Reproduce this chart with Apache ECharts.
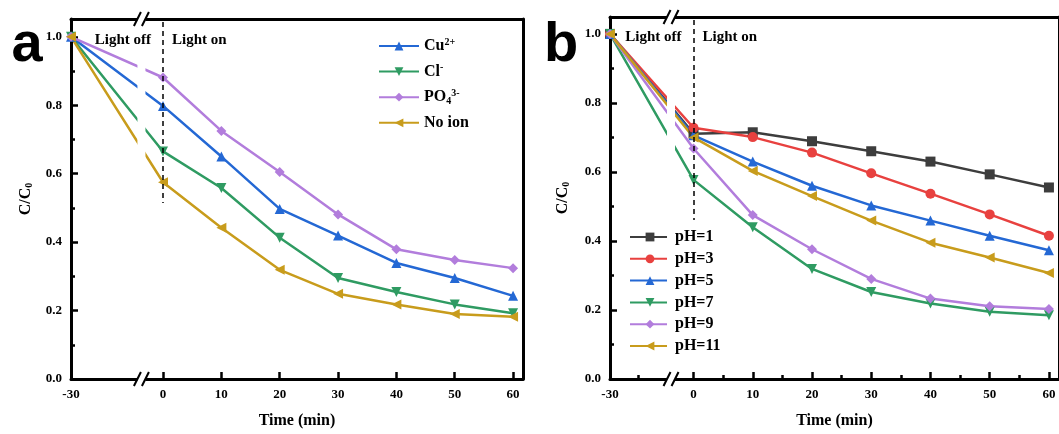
<!DOCTYPE html>
<html><head><meta charset="utf-8">
<script src="https://cdn.jsdelivr.net/npm/echarts@6/dist/echarts.min.js"></script>
<style>html,body{margin:0;padding:0;background:#fff}#c{width:1059px;height:434px}</style>
</head><body><div id="c"></div>
<script>
// ---- data ----
const times = [-30, 0, 10, 20, 30, 40, 50, 60];
const xTickValues = [0, 10, 20, 30, 40, 50, 60];
const yTickValues = [0, 0.2, 0.4, 0.6, 0.8, 1.0];
const yMinorValues = [0.1, 0.3, 0.5, 0.7, 0.9];
const ionNames = ['Cu2+', 'Cl-', 'PO43-', 'No ion'];
const cu    = [1.0, 0.798, 0.650, 0.497, 0.419, 0.339, 0.295, 0.243];
const cl    = [1.0, 0.665, 0.558, 0.413, 0.295, 0.254, 0.218, 0.192];
const po4   = [1.0, 0.881, 0.725, 0.605, 0.481, 0.379, 0.348, 0.324];
const noIon = [1.0, 0.575, 0.442, 0.319, 0.249, 0.218, 0.190, 0.182];
const phNames = ['pH=1', 'pH=3', 'pH=5', 'pH=7', 'pH=9', 'pH=11'];
const ph1  = [1.0, 0.711, 0.715, 0.689, 0.660, 0.630, 0.593, 0.555];
const ph3  = [1.0, 0.728, 0.701, 0.656, 0.596, 0.537, 0.477, 0.415];
const ph5  = [1.0, 0.706, 0.630, 0.560, 0.503, 0.459, 0.415, 0.373];
const ph7  = [1.0, 0.577, 0.440, 0.319, 0.252, 0.219, 0.195, 0.185];
const ph9  = [1.0, 0.668, 0.475, 0.376, 0.290, 0.233, 0.211, 0.203];
const ph11 = [1.0, 0.700, 0.603, 0.530, 0.459, 0.395, 0.352, 0.307];

// ---- layout ----
const FONT = "'Liberation Serif','Times New Roman',serif";
const C = {grey:'#3d3d3d', red:'#e8413f', blue:'#2468d4', green:'#2f9b62', purple:'#b27ddc', gold:'#c89c1c'};
const panels = [
  {off: 15.77, xmax: 61.7, ymax: 1.052, left: 71, top: 19, width: 452, height: 364, breakAt: -3.7, minorX: [], dash: [1.043, 0.514]},
  {off: 14.1,  xmax: 61.7, ymax: 1.049, left: 610, top: 17, width: 453, height: 366, breakAt: -3.8, minorX: [-9.25, 5, 15, 25, 35, 45, 55], dash: [1.04, 0.461]}
];
function tx(t, p) { return t >= 0 ? t : t * p.off / 30; }

const grids = [], xAxes = [], yAxes = [], series = [];
panels.forEach((p, gi) => {
  grids.push({left: p.left, top: p.top, width: p.width, height: p.height, containLabel: false});
  const xMain = xAxes.length;
  xAxes.push({
    type: 'value', gridIndex: gi, position: 'bottom', min: -p.off, max: p.xmax,
    axisLine: {show: true, onZero: false, lineStyle: {color: '#000', width: 3}},
    axisTick: {show: true, inside: true, length: 7, customValues: xTickValues, lineStyle: {color: '#000', width: 2.5}},
    axisLabel: {show: true, customValues: [-p.off].concat(xTickValues), margin: 9,
      formatter: v => v < 0 ? '-30' : String(Math.round(v)),
      color: '#000', fontFamily: FONT, fontWeight: 'bold', fontSize: 13},
    splitLine: {show: false},
    name: 'Time (min)', nameLocation: 'middle', nameGap: 34,
    nameTextStyle: {color: '#000', fontFamily: FONT, fontWeight: 'bold', fontSize: 16}
  });
  if (p.minorX.length) xAxes.push({
    type: 'value', gridIndex: gi, position: 'bottom', min: -p.off, max: p.xmax,
    axisLine: {show: false, onZero: false},
    axisTick: {show: true, inside: true, length: 4, customValues: p.minorX, lineStyle: {color: '#000', width: 2.5}},
    axisLabel: {show: false}, splitLine: {show: false}
  });
  xAxes.push({
    type: 'value', gridIndex: gi, position: 'top', min: -p.off, max: p.xmax,
    axisLine: {show: true, onZero: false, lineStyle: {color: '#000', width: 3}},
    axisTick: {show: false}, axisLabel: {show: false}, splitLine: {show: false}
  });
  const yMain = yAxes.length;
  yAxes.push({
    type: 'value', gridIndex: gi, position: 'left', min: 0, max: p.ymax,
    axisLine: {show: true, onZero: false, lineStyle: {color: '#000', width: 3}},
    axisTick: {show: true, inside: true, length: 7, customValues: yTickValues, lineStyle: {color: '#000', width: 2.5}},
    axisLabel: {show: true, customValues: yTickValues, margin: 9, formatter: v => v.toFixed(1),
      color: '#000', fontFamily: FONT, fontWeight: 'bold', fontSize: 13},
    splitLine: {show: false},
    name: '{n|C/C}{s|0}', nameLocation: 'middle', nameGap: gi === 0 ? 37 : 39, nameRotate: 90,
    nameTextStyle: {color: '#000', rich: {
      n: {fontFamily: FONT, fontWeight: 'bold', fontSize: 16, color: '#000'},
      s: {fontFamily: FONT, fontWeight: 'bold', fontSize: 10, color: '#000', verticalAlign: 'bottom'}
    }}
  });
  yAxes.push({
    type: 'value', gridIndex: gi, position: 'left', min: 0, max: p.ymax,
    axisLine: {show: false, onZero: false},
    axisTick: {show: true, inside: true, length: 4, customValues: yMinorValues, lineStyle: {color: '#000', width: 2.5}},
    axisLabel: {show: false}, splitLine: {show: false}
  });
  yAxes.push({
    type: 'value', gridIndex: gi, position: 'right', min: 0, max: p.ymax,
    axisLine: {show: true, onZero: false, lineStyle: {color: '#000', width: 3}},
    axisTick: {show: false}, axisLabel: {show: false}, splitLine: {show: false}
  });
  p.xi = xMain; p.yi = yMain;
});

function mkSeries(name, vals, p, color, symbol, rotate, withDash) {
  const s = {
    type: 'line', name: name, xAxisIndex: p.xi, yAxisIndex: p.yi,
    data: times.map((t, i) => [tx(t, p), vals[i]]),
    symbol: symbol, symbolSize: 10, symbolRotate: rotate,
    lineStyle: {color: color, width: 2.5}, itemStyle: {color: color},
    showAllSymbol: true, animation: false
  };
  if (withDash) s.markLine = {
    silent: true, symbol: 'none', animation: false, label: {show: false},
    lineStyle: {color: '#000', type: [5, 4], width: 1.5},
    data: [[{coord: [0, p.dash[0]]}, {coord: [0, p.dash[1]]}]]
  };
  return s;
}
const pa = panels[0], pb = panels[1];
series.push(mkSeries(ionNames[0], cu, pa, C.blue, 'triangle', 0, true));
series.push(mkSeries(ionNames[1], cl, pa, C.green, 'triangle', 180, false));
series.push(mkSeries(ionNames[2], po4, pa, C.purple, 'diamond', 0, false));
series.push(mkSeries(ionNames[3], noIon, pa, C.gold, 'triangle', 90, false));
series.push(mkSeries(phNames[0], ph1, pb, C.grey, 'rect', 0, true));
series.push(mkSeries(phNames[1], ph3, pb, C.red, 'circle', 0, false));
series.push(mkSeries(phNames[2], ph5, pb, C.blue, 'triangle', 0, false));
series.push(mkSeries(phNames[3], ph7, pb, C.green, 'triangle', 180, false));
series.push(mkSeries(phNames[4], ph9, pb, C.purple, 'diamond', 0, false));
series.push(mkSeries(phNames[5], ph11, pb, C.gold, 'triangle', 90, false));

const legendRich = {
  m: {fontFamily: FONT, fontWeight: 'bold', fontSize: 16, color: '#000', lineHeight: 18},
  sup: {fontFamily: FONT, fontWeight: 'bold', fontSize: 10, color: '#000', verticalAlign: 'top', lineHeight: 10},
  sub: {fontFamily: FONT, fontWeight: 'bold', fontSize: 10, color: '#000', verticalAlign: 'bottom', lineHeight: 10}
};
const ionLabel = {'Cu2+': '{m|Cu}{sup|2+}', 'Cl-': '{m|Cl}{sup|-}', 'PO43-': '{m|PO}{sub|4}{sup|3-}', 'No ion': '{m|No ion}'};

const chart = echarts.init(document.getElementById('c'), null, {renderer: 'canvas'});
chart.setOption({
  backgroundColor: '#fff', animation: false,
  grid: grids, xAxis: xAxes, yAxis: yAxes, series: series,
  legend: [
    {data: ionNames, orient: 'vertical', left: 378, top: 37, padding: 0, itemWidth: 40, itemHeight: 11, itemGap: 8.6,
     formatter: n => ionLabel[n], textStyle: {rich: legendRich}, selectedMode: false},
    {data: phNames, orient: 'vertical', left: 629, top: 229, padding: 0, itemWidth: 40, itemHeight: 11, itemGap: 5.8,
     formatter: n => '{m|' + n + '}', textStyle: {rich: legendRich}, selectedMode: false}
  ]
});

// break marks, light off/on texts and panel letters
const gfx = [];
panels.forEach((p, gi) => {
  const pB = chart.convertToPixel({xAxisIndex: p.xi, yAxisIndex: p.yi}, [p.breakAt, 0]);
  const pT = chart.convertToPixel({xAxisIndex: p.xi, yAxisIndex: p.yi}, [p.breakAt, p.ymax]);
  const x = pB[0], yb = pB[1], yt = pT[1], hw = 4;
  gfx.push({type: 'rect', silent: true, z: 100, shape: {x: x - hw, y: yt - 3, width: 2 * hw, height: yb - yt + 6}, style: {fill: '#fff'}});
  [yt, yb].forEach(y => [-hw, hw].forEach(dx => gfx.push({type: 'line', silent: true, z: 101,
    shape: {x1: x + dx - 3.5, y1: y + 7, x2: x + dx + 3.5, y2: y - 7}, style: {stroke: '#000', lineWidth: 2}})));
  const p0 = chart.convertToPixel({xAxisIndex: p.xi, yAxisIndex: p.yi}, [0, 1.0]);
  gfx.push({type: 'text', z: 102, x: p0[0] - 12, y: p0[1] + 3, style: {text: 'Light off', fill: '#000', font: "bold 15px " + FONT, align: 'right', verticalAlign: 'middle'}});
  gfx.push({type: 'text', z: 102, x: p0[0] + 9, y: p0[1] + 3, style: {text: 'Light on', fill: '#000', font: "bold 15px " + FONT, align: 'left', verticalAlign: 'middle'}});
});
gfx.push({type: 'text', z: 102, x: 27, y: 46, style: {text: 'a', fill: '#000', font: "bold 56px 'Liberation Sans',Arial,sans-serif", align: 'center', verticalAlign: 'middle'}});
gfx.push({type: 'text', z: 102, x: 561, y: 46, style: {text: 'b', fill: '#000', font: "bold 56px 'Liberation Sans',Arial,sans-serif", align: 'center', verticalAlign: 'middle'}});
chart.setOption({graphic: {elements: gfx}});
</script></body></html>
